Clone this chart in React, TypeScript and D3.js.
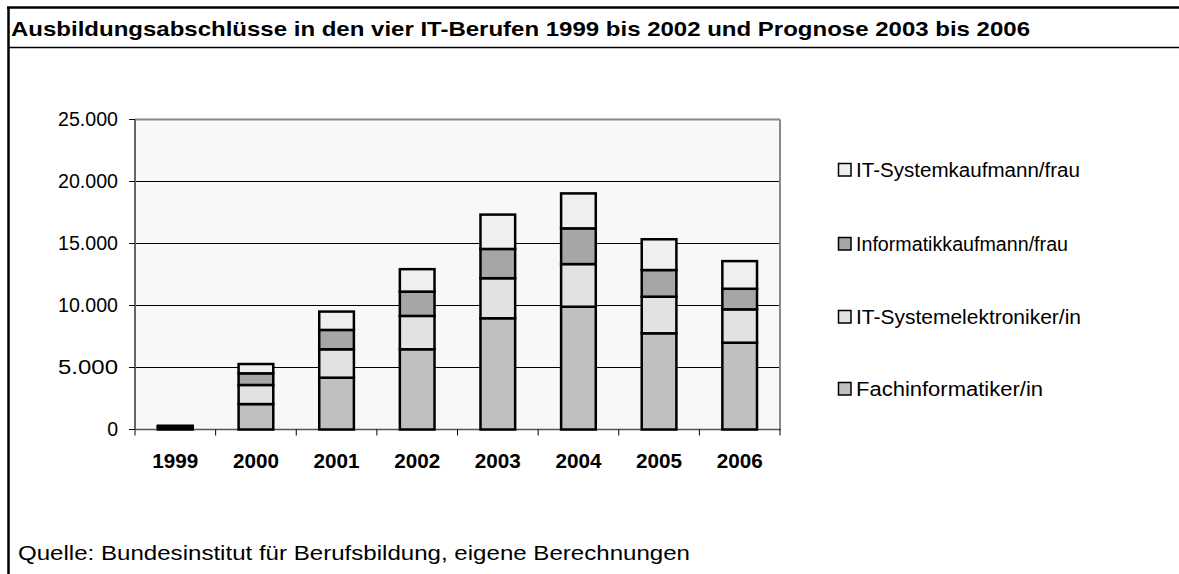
import React from "react";
import * as d3 from "d3";

const years = ["1999", "2000", "2001", "2002", "2003", "2004", "2005", "2006"];
const fachinformatiker = [120, 2050, 4180, 6470, 8970, 9900, 7760, 7000];
const systemelektroniker = [90, 1540, 2290, 2690, 3230, 3440, 2950, 2690];
const informatikkaufmann = [60, 940, 1560, 1960, 2360, 2880, 2150, 1660];
const systemkaufmann = [30, 750, 1480, 1810, 2770, 2820, 2480, 2230];
const seriesNames = ["Fachinformatiker/in", "IT-Systemelektroniker/in", "Informatikkaufmann/frau", "IT-Systemkaufmann/frau"];
const seriesColors = ["#c0c0c0", "#e2e2e2", "#a6a6a6", "#efefef"];
const yTicks = [0, 5000, 10000, 15000, 20000, 25000];
const title = "Ausbildungsabschlüsse in den vier IT-Berufen 1999 bis 2002 und Prognose 2003 bis 2006";
const source = "Quelle: Bundesinstitut für Berufsbildung, eigene Berechnungen";

const W = 1179, H = 574;
const plot = { left: 135, right: 780, top: 119.5, bottom: 429.5 };
const FONT = "'Liberation Sans', Arial, sans-serif";

export default function App() {
  const x = d3.scaleBand<string>().domain(years).range([plot.left, plot.right]).paddingInner(0).paddingOuter(0);
  const y = d3.scaleLinear().domain([0, 25000]).range([plot.bottom, plot.top]);
  const rows = years.map((yr, i) => ({
    year: yr,
    s0: fachinformatiker[i], s1: systemelektroniker[i], s2: informatikkaufmann[i], s3: systemkaufmann[i],
  }));
  const stack = d3.stack<any>().keys(["s0", "s1", "s2", "s3"])(rows);
  const bw = x.bandwidth();
  const barW = bw * 0.43;
  const fmt = (v: number) => (v === 0 ? "0" : d3.format(",")(v).replace(/,/g, "."));
  const legendOrder = [3, 2, 1, 0];
  const legendY = [170, 244, 317, 389];
  const legendW = [224, 212, 225, 187];

  return (
    <svg width={W} height={H} style={{ position: "absolute", left: 0, top: 0, background: "#fff" }} fontFamily={FONT}>
      {/* frame */}
      <line x1={7} x2={W} y1={7.5} y2={7.5} stroke="#000" strokeWidth={2.5} />
      <line x1={8.5} x2={8.5} y1={7} y2={H} stroke="#000" strokeWidth={2.5} />
      <line x1={8} x2={W} y1={47.5} y2={47.5} stroke="#000" strokeWidth={1.5} />
      <text x={11} y={36} fontSize={20.5} fontWeight="bold" textLength={1019} lengthAdjust="spacingAndGlyphs">{title}</text>

      {/* plot area */}
      <rect x={plot.left} y={plot.top} width={plot.right - plot.left} height={plot.bottom - plot.top} fill="#f8f8f8" />
      {yTicks.filter(t => t > 0 && t < 25000).map(t => (
        <line key={t} x1={plot.left} x2={plot.right} y1={y(t)} y2={y(t)} stroke="#000" strokeWidth={1} />
      ))}
      <line x1={plot.left} x2={plot.right} y1={plot.top} y2={plot.top} stroke="#888" strokeWidth={2} />
      <line x1={plot.right} x2={plot.right} y1={plot.top} y2={plot.bottom} stroke="#888" strokeWidth={2} />
      <line x1={plot.left} x2={plot.left} y1={plot.top} y2={plot.bottom} stroke="#666" strokeWidth={2} />
      <line x1={plot.left} x2={plot.right + 1} y1={plot.bottom} y2={plot.bottom} stroke="#555" strokeWidth={1.5} />

      {/* y ticks */}
      {yTicks.map(t => (
        <g key={t}>
          <line x1={plot.left - 6} x2={plot.left} y1={y(t)} y2={y(t)} stroke="#000" strokeWidth={1} />
          <text x={118} y={y(t)} dy="0.35em" textAnchor="end" fontSize={19.5} textLength={fmt(t).length > 1 ? 60 : undefined} lengthAdjust="spacingAndGlyphs">{fmt(t)}</text>
        </g>
      ))}
      {/* x ticks */}
      {years.map(yr => (
        <line key={"t" + yr} x1={x(yr)! + bw} x2={x(yr)! + bw} y1={plot.bottom} y2={plot.bottom + 6} stroke="#000" strokeWidth={1} />
      ))}
      <line x1={plot.left} x2={plot.left} y1={plot.bottom} y2={plot.bottom + 6} stroke="#000" strokeWidth={1} />
      {years.map(yr => (
        <text key={"l" + yr} x={x(yr)! + bw / 2} y={468} textAnchor="middle" fontSize={19.5} fontWeight="bold" textLength={46} lengthAdjust="spacingAndGlyphs">{yr}</text>
      ))}

      {/* bars */}
      {stack.map((layer, si) => (
        <g key={si}>
          {layer.map((d, i) => (
            <rect key={i} x={x(years[i])! + (bw - barW) / 2} y={y(d[1])} width={barW} height={Math.max(0, y(d[0]) - y(d[1]))}
              fill={seriesColors[si]} stroke="#000" strokeWidth={2.5} />
          ))}
        </g>
      ))}

      {/* legend */}
      {legendOrder.map((si, k) => (
        <g key={si}>
          <rect x={838.5} y={legendY[k] - 6.5} width={12.5} height={12.5} fill={seriesColors[si]} stroke="#000" strokeWidth={1.5} />
          <text x={856} y={legendY[k]} dy="0.35em" fontSize={19.5} textLength={legendW[k]} lengthAdjust="spacingAndGlyphs">{seriesNames[si]}</text>
        </g>
      ))}

      <text x={18} y={553} dy="0.35em" fontSize={21} textLength={672} lengthAdjust="spacingAndGlyphs">{source}</text>
    </svg>
  );
}
